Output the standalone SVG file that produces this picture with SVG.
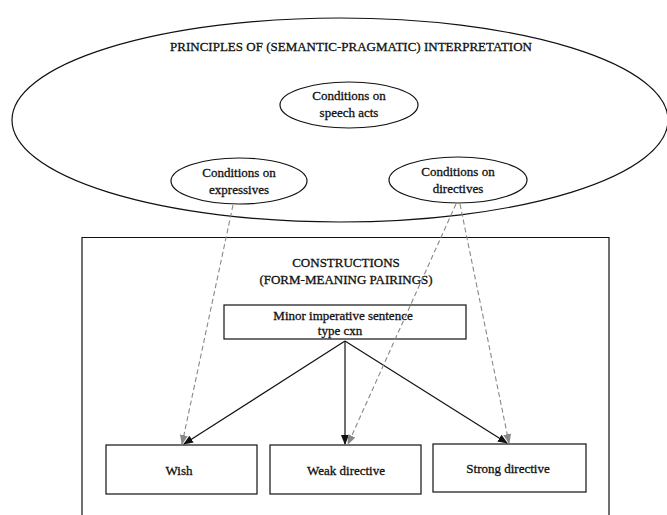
<svg xmlns="http://www.w3.org/2000/svg" width="667" height="515" viewBox="0 0 667 515">
<style>
text{font-family:"Liberation Serif","Times New Roman",serif;font-size:13px;fill:#111;stroke:#111;stroke-width:0.3;text-anchor:middle}
.sh{fill:none;stroke:#111;stroke-width:1.2}
.box{fill:#fff;stroke:#111;stroke-width:1.2}
.solid{stroke:#111;stroke-width:1.2;fill:none}
.dash{stroke:#888;stroke-width:1.1;fill:none;stroke-dasharray:5,3}
</style>
<defs>
<marker id="ab" markerWidth="10" markerHeight="10" refX="9" refY="5" orient="auto" markerUnits="userSpaceOnUse"><path d="M0,1 L10,5 L0,9 Z" fill="#111"/></marker>
<marker id="ag" markerWidth="10" markerHeight="10" refX="9" refY="5" orient="auto" markerUnits="userSpaceOnUse"><path d="M0,1 L10,5 L0,9 Z" fill="#888"/></marker>
</defs>
<rect width="667" height="515" fill="#fff"/>
<g id="principles">
<ellipse class="sh" cx="340" cy="120" rx="328" ry="102"/>
<text x="351" y="51">PRINCIPLES OF (SEMANTIC-PRAGMATIC) INTERPRETATION</text>
</g>
<g id="speech-acts">
<ellipse class="sh" cx="349" cy="105" rx="69" ry="23"/>
<text x="349" y="100">Conditions on</text>
<text x="349" y="117">speech acts</text>
</g>
<g id="expressives">
<ellipse class="sh" cx="239" cy="181" rx="68" ry="23"/>
<text x="239" y="177">Conditions on</text>
<text x="239" y="194">expressives</text>
</g>
<g id="directives">
<ellipse class="sh" cx="458" cy="180" rx="69" ry="23"/>
<text x="458" y="176">Conditions on</text>
<text x="458" y="193">directives</text>
</g>
<g id="constructions">
<path class="sh" d="M82,516 V237.5 H609 V516"/>
<text x="346" y="267">CONSTRUCTIONS</text>
<text x="346" y="284">(FORM-MEANING PAIRINGS)</text>
</g>
<g id="minor">
<rect class="box" x="224" y="305" width="242" height="34"/>
<text x="343" y="320">Minor imperative sentence</text>
<text x="340" y="335">type cxn</text>
</g>
<g id="wish">
<rect class="box" x="106" y="445" width="151" height="49"/>
<text x="179" y="475">Wish</text>
</g>
<g id="weak">
<rect class="box" x="270" y="445" width="151" height="49"/>
<text x="346" y="475">Weak directive</text>
</g>
<g id="strong">
<rect class="box" x="433" y="444" width="153" height="48"/>
<text x="508" y="473">Strong directive</text>
</g>
<g id="connectors">
<line class="solid" x1="345" y1="341" x2="184" y2="444" marker-end="url(#ab)"/>
<line class="solid" x1="345" y1="341" x2="345" y2="444" marker-end="url(#ab)"/>
<line class="solid" x1="345" y1="341" x2="507" y2="443" marker-end="url(#ab)"/>
<line class="dash" x1="233" y1="205" x2="182" y2="444" marker-end="url(#ag)"/>
<line class="dash" x1="456" y1="204" x2="348" y2="444" marker-end="url(#ag)"/>
<line class="dash" x1="460" y1="204" x2="509" y2="443" marker-end="url(#ag)"/>
</g>
</svg>
